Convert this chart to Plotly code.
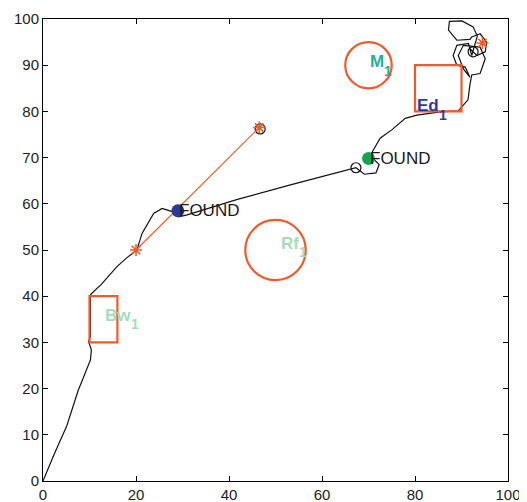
import plotly.graph_objects as go

# ---- data ----
path_x = [0, 2.4, 5.1, 7.6, 8.5, 10.2, 10.4, 9.8, 10.2, 10.2, 11.6, 12.4, 15.9, 18.0, 20.2,
          21.3, 23.8, 25.6, 27.8, 29.2, 31.0, 42.0, 53.2, 60.0, 67.3,
          69.1, 71.6, 72.3, 71.2, 70.0, 72.5, 75.0, 77.9, 80.4, 85.4, 89.3, 90.4,
          91.4, 91.8, 92.2,
          94.0, 95.1, 94.0, 90.4, 89.3, 90.4, 91.8,
          90.8, 89.0, 88.2, 89.0, 91.5, 92.2,
          93.4, 92.5, 90.1, 87.4, 87.2, 89.0, 91.8,
          92.2, 94.0, 95.4, 95.1, 93.3, 91.8, 92.5]
path_y = [0, 5.8, 11.9, 19.7, 21.9, 26.2, 28.4, 30.2, 31.2, 40.3, 41.7, 42.4, 46.4, 48.3, 50.0,
          53.6, 57.9, 59.0, 58.3, 57.2, 57.6, 61.0, 64.1, 65.9, 67.8,
          66.4, 66.7, 68.5, 69.6, 69.8, 74.2, 76.0, 78.5, 79.2, 79.9, 80.1, 81.4,
          82.5, 85.7, 87.9,
          88.2, 91.4, 93.9, 94.3, 92.1, 89.2, 87.4,
          89.6, 90.0, 92.1, 94.3, 94.7, 92.1,
          96.3, 98.3, 99.6, 99.5, 97.6, 95.4, 95.6,
          96.1, 96.8, 95.0, 92.9, 92.1, 93.6, 92.9]

red_line_x = [20, 46.5]
red_line_y = [50, 76.5]
star_x = [20, 46.5, 94.5]
star_y = [50, 76.5, 94.8]
open_x = [46.7, 67.3, 92.5]
open_y = [76.2, 67.8, 92.9]
found_x = [29.0, 70.0]
found_y = [58.5, 69.8]
found_colors = ["#2B3A93", "#12A550"]

rect_names = ["Bw", "Ed"]
rect_x0 = [10, 80]
rect_y0 = [30, 80]
rect_x1 = [16, 90]
rect_y1 = [40, 90]
circ_names = ["Rf", "M"]
circ_cx = [50, 70]
circ_cy = [50, 90]
circ_r = [6.5, 5]

labels = ["Bw", "Rf", "M", "Ed"]
label_x = [19.0, 55.1, 73.4, 85.2]   # junction between name and subscript
label_y = [35.9, 51.5, 90.7, 81.2]
label_colors = ["#A6DDB9", "#A6DDB9", "#1BB0A0", "#2E3A9A"]

xticks = [0, 20, 40, 60, 80, 100]
yticks = [0, 10, 20, 30, 40, 50, 60, 70, 80, 90, 100]

RED = "#F15A2B"
FONT = "Liberation Sans, Arial"

fig = go.Figure()

fig.add_trace(go.Scatter(x=red_line_x, y=red_line_y, mode="lines",
                         line=dict(color=RED, width=1.2), hoverinfo="skip"))
fig.add_trace(go.Scatter(x=path_x, y=path_y, mode="lines",
                         line=dict(color="#111111", width=1.2), hoverinfo="skip"))

for i in range(len(rect_names)):
    fig.add_shape(type="rect", x0=rect_x0[i], y0=rect_y0[i], x1=rect_x1[i], y1=rect_y1[i],
                  line=dict(color=RED, width=2.2))
for i in range(len(circ_names)):
    fig.add_shape(type="circle", x0=circ_cx[i] - circ_r[i], x1=circ_cx[i] + circ_r[i],
                  y0=circ_cy[i] - circ_r[i], y1=circ_cy[i] + circ_r[i],
                  line=dict(color=RED, width=2.2))

fig.add_trace(go.Scatter(x=open_x, y=open_y, mode="markers",
                         marker=dict(symbol="circle-open", size=10, color="#111111",
                                     line=dict(width=1.2)), hoverinfo="skip"))
fig.add_trace(go.Scatter(x=star_x, y=star_y, mode="markers",
                         marker=dict(symbol="asterisk-open", size=10, color=RED,
                                     line=dict(width=1.6, color=RED)), hoverinfo="skip"))
fig.add_trace(go.Scatter(x=found_x, y=found_y, mode="markers",
                         marker=dict(symbol="circle", size=13, color=found_colors,
                                     line=dict(width=0)), hoverinfo="skip"))

for i in range(len(found_x)):
    fig.add_annotation(x=found_x[i], y=found_y[i], text="FOUND", showarrow=False,
                       xanchor="left", yanchor="middle", xshift=-1,
                       font=dict(family=FONT, size=17, color="#1a1a1a"))

for i in range(len(labels)):
    fig.add_annotation(x=label_x[i], y=label_y[i], text="<b>%s</b>" % labels[i],
                       showarrow=False, xanchor="right", yanchor="middle", xshift=2,
                       font=dict(family=FONT, size=17, color=label_colors[i]))
    fig.add_annotation(x=label_x[i], y=label_y[i], text="<b>1</b>",
                       showarrow=False, xanchor="left", yanchor="middle", yshift=-9, xshift=-2,
                       font=dict(family=FONT, size=14, color=label_colors[i]))

axis_common = dict(range=[0, 100], showgrid=False, zeroline=False, showline=True,
                   linecolor="#000000", linewidth=1, mirror="ticks", ticks="inside",
                   ticklen=5, tickcolor="#000000", tickwidth=1, automargin=False,
                   tickfont=dict(family=FONT, size=15, color="#222222"))

fig.update_xaxes(tickvals=xticks, ticktext=[str(v) for v in xticks], **axis_common)
fig.update_yaxes(tickvals=yticks, ticktext=[str(v) for v in yticks], **axis_common)

# page body has an 8px default margin, so the figure starts at (8, 8)
fig.update_layout(width=519, height=494, showlegend=False,
                  margin=dict(l=34.5, r=19, t=11, b=21),
                  plot_bgcolor="white", paper_bgcolor="white")

fig.write_html("out.html")
